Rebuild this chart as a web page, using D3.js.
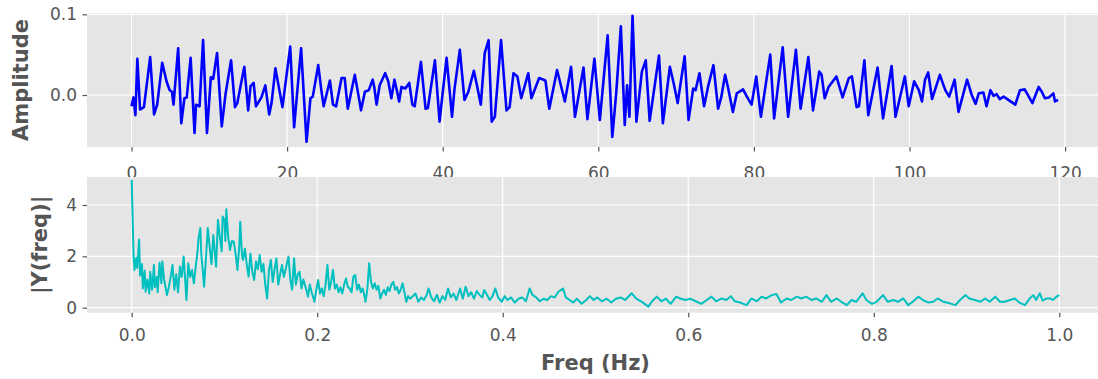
<!DOCTYPE html>
<html>
<head>
<meta charset="utf-8">
<script src="https://cdn.jsdelivr.net/npm/d3@7"></script>
<style>
  body { margin: 0; background: #fff; }
  text { font-family: "DejaVu Sans", sans-serif; }
</style>
</head>
<body>
<div id="chart"></div>
<script>
// time signal (s) and its amplitude
const timeSec = [0,0.25,0.5,0.75,1.1,1.6,2.4,2.9,3.3,3.95,4.5,4.9,5.2,5.4,6.0,6.4,6.8,7.1,7.6,8.1,8.3,8.75,9.2,9.7,10.2,10.5,11.0,11.6,12.1,12.8,13.3,13.6,14.5,15.0,15.3,15.7,16.0,16.7,17.2,17.7,18.0,18.5,19.4,20.4,20.9,21.8,22.5,23.0,23.3,24.0,24.4,24.7,25.5,25.9,26.3,27.0,27.4,27.8,28.7,29.2,29.5,30.0,30.5,31.0,31.2,31.5,31.9,32.6,33.0,33.4,33.8,34.1,34.4,34.7,35.2,35.7,36.1,36.4,37.2,37.8,38.1,39.0,39.6,39.9,40.5,41.2,41.5,42.2,42.8,43.3,44.0,44.4,44.9,45.4,45.9,46.3,46.7,47.5,48.2,48.6,49.1,49.6,50.1,51.0,51.4,52.4,53.2,53.7,54.7,55.7,56.5,57.0,58.1,58.6,59.5,60.2,61.2,61.8,62.3,62.9,63.4,63.7,64.0,64.4,64.9,65.6,66.1,66.6,67.8,68.3,69.2,69.7,70.2,71.1,71.6,72.2,72.5,73.0,73.6,74.1,74.8,75.4,75.8,76.3,76.7,77.3,77.8,78.6,79.1,79.7,80.3,80.9,82.1,82.6,83.7,84.4,85.4,86.0,87.0,87.6,88.4,88.7,89.1,89.6,90.6,91.4,92.2,92.6,93.2,93.5,94.2,94.7,95.9,96.6,97.7,98.2,99.4,99.9,100.6,101.2,101.6,102.0,102.4,102.9,103.9,104.6,105.1,105.8,106.3,107.4,108.0,108.5,108.9,109.5,109.9,110.4,110.8,111.2,111.6,112.1,113.6,114.2,114.8,115.8,116.6,117.0,117.4,117.9,118.5,118.7,119.1];
const amplitude = [-0.014,-0.003,-0.025,0.045,-0.018,-0.015,0.047,-0.024,-0.012,0.040,0.017,0.006,0.004,-0.012,0.058,-0.035,-0.004,-0.003,0.046,-0.047,-0.012,-0.014,0.068,-0.047,0.022,0.020,0.052,-0.039,0.002,0.043,-0.015,-0.010,0.035,-0.019,0.011,0.015,-0.014,-0.003,0.012,-0.024,-0.010,0.033,-0.015,0.060,-0.040,0.058,-0.058,-0.004,-0.002,0.037,0.006,-0.014,0.018,-0.012,-0.014,0.021,0.021,-0.017,0.025,-0.002,-0.019,0.004,0.006,0.019,0.010,-0.012,0.012,0.027,0.017,-0.004,0.019,0.006,-0.008,0.010,0.008,0.015,-0.012,-0.014,0.041,-0.017,-0.016,0.043,-0.033,-0.006,0.046,-0.027,0.006,0.056,-0.006,0.004,0.030,0.012,-0.012,0.052,0.068,-0.033,-0.027,0.068,-0.019,-0.015,0.027,0.023,-0.004,0.027,-0.004,0.021,0.018,-0.017,0.031,-0.008,0.035,-0.027,0.034,-0.030,0.045,-0.031,0.074,-0.052,0.002,0.085,-0.037,0.012,-0.027,0.098,-0.033,0.029,0.043,-0.032,0.049,-0.035,0.035,0.014,-0.010,0.048,-0.031,0.008,0.006,0.027,-0.014,0.010,0.037,-0.017,-0.003,0.025,0.008,-0.021,0.002,0.007,-0.002,-0.012,0.023,-0.027,0.050,-0.029,0.059,-0.027,0.056,-0.017,0.047,-0.019,0.029,0.025,-0.004,0.010,0.023,-0.003,0.021,0.023,-0.015,-0.014,0.043,-0.025,0.034,-0.029,0.036,-0.027,0.023,-0.014,0.017,0.006,-0.008,0.019,0.028,-0.005,0.025,0.006,-0.002,0.019,-0.021,0.019,0.000,-0.011,0.002,0.003,-0.014,0.006,-0.001,0.001,-0.005,-0.002,-0.012,0.006,0.007,-0.010,0.010,0.004,-0.004,-0.003,0.002,-0.008,-0.006];

// spectrum
const freqHz = [0.000,0.002,0.003,0.005,0.006,0.008,0.009,0.011,0.012,0.014,0.015,0.017,0.019,0.020,0.022,0.024,0.025,0.027,0.028,0.030,0.032,0.033,0.035,0.037,0.038,0.040,0.042,0.044,0.046,0.048,0.050,0.052,0.054,0.056,0.058,0.059,0.061,0.063,0.065,0.067,0.069,0.071,0.072,0.074,0.075,0.077,0.078,0.080,0.082,0.084,0.086,0.088,0.090,0.091,0.093,0.095,0.097,0.098,0.100,0.101,0.102,0.104,0.106,0.108,0.110,0.112,0.114,0.116,0.117,0.119,0.120,0.122,0.124,0.126,0.128,0.130,0.132,0.134,0.136,0.138,0.140,0.142,0.144,0.146,0.148,0.150,0.152,0.154,0.156,0.158,0.160,0.162,0.164,0.166,0.169,0.171,0.173,0.175,0.177,0.179,0.181,0.183,0.185,0.187,0.189,0.190,0.192,0.194,0.197,0.199,0.201,0.203,0.205,0.207,0.209,0.211,0.213,0.215,0.217,0.219,0.221,0.223,0.225,0.227,0.229,0.231,0.233,0.235,0.237,0.239,0.241,0.243,0.245,0.247,0.249,0.251,0.252,0.254,0.256,0.258,0.260,0.262,0.264,0.266,0.268,0.270,0.272,0.274,0.276,0.278,0.280,0.282,0.284,0.286,0.288,0.290,0.292,0.294,0.296,0.298,0.300,0.303,0.306,0.309,0.312,0.315,0.318,0.320,0.323,0.326,0.329,0.332,0.335,0.338,0.341,0.344,0.347,0.350,0.354,0.357,0.360,0.363,0.366,0.369,0.372,0.375,0.378,0.380,0.383,0.386,0.389,0.392,0.395,0.399,0.402,0.405,0.409,0.413,0.417,0.421,0.425,0.429,0.432,0.436,0.440,0.444,0.448,0.452,0.456,0.460,0.465,0.468,0.472,0.476,0.480,0.485,0.490,0.494,0.498,0.502,0.507,0.512,0.517,0.522,0.527,0.532,0.539,0.544,0.549,0.553,0.557,0.561,0.566,0.571,0.576,0.581,0.587,0.592,0.597,0.602,0.608,0.614,0.620,0.625,0.630,0.636,0.641,0.646,0.650,0.656,0.663,0.668,0.674,0.679,0.684,0.690,0.695,0.700,0.706,0.711,0.717,0.722,0.727,0.733,0.738,0.744,0.749,0.754,0.760,0.765,0.771,0.776,0.781,0.788,0.792,0.798,0.803,0.810,0.815,0.821,0.826,0.832,0.837,0.842,0.848,0.853,0.859,0.864,0.869,0.875,0.882,0.888,0.893,0.899,0.903,0.909,0.915,0.920,0.925,0.931,0.936,0.941,0.947,0.952,0.957,0.963,0.968,0.972,0.975,0.979,0.982,0.986,0.990,0.993,0.997,1.000];
const magnitude = [4.98,2.05,1.47,1.95,1.55,2.66,1.25,1.70,0.75,1.45,0.62,1.10,0.55,1.40,0.70,1.66,0.80,1.20,0.60,1.75,0.95,1.80,1.08,0.70,0.49,0.80,1.20,1.66,0.70,1.30,0.60,1.60,1.20,1.99,0.90,0.30,1.73,1.20,1.47,0.95,1.60,2.20,2.70,3.10,2.10,1.30,0.82,1.90,3.10,2.38,1.70,2.83,2.00,1.60,3.42,2.77,2.20,3.55,3.42,2.60,3.83,2.77,2.25,2.60,2.57,2.10,1.47,2.40,3.35,2.00,1.86,2.30,1.70,1.21,2.10,1.40,1.08,1.80,1.50,2.05,1.40,1.70,0.90,0.36,1.47,1.86,1.00,1.50,1.92,0.90,1.30,1.66,1.20,1.50,1.99,1.10,0.70,1.92,0.90,1.30,1.40,0.75,1.10,0.85,0.60,0.43,0.90,0.60,0.23,0.70,1.08,0.55,0.75,0.45,0.90,1.66,0.70,1.00,1.47,0.75,0.90,0.60,0.80,0.55,0.90,1.14,0.80,0.75,0.60,1.21,1.27,0.70,0.90,0.60,0.75,0.45,0.23,0.70,1.73,1.00,0.75,0.95,0.70,0.85,0.36,0.55,0.70,0.50,0.80,0.65,0.90,1.01,0.70,0.80,0.55,0.70,0.95,0.60,0.23,0.45,0.35,0.45,0.55,0.23,0.40,0.30,0.50,0.75,0.40,0.25,0.50,0.20,0.45,0.30,0.75,0.40,0.55,0.30,0.75,0.35,0.82,0.45,0.60,0.35,0.65,0.50,0.40,0.69,0.50,0.30,0.45,0.75,0.40,0.23,0.45,0.30,0.40,0.20,0.35,0.40,0.25,0.75,0.50,0.40,0.25,0.35,0.30,0.45,0.40,0.62,0.75,0.40,0.30,0.20,0.35,0.15,0.30,0.45,0.30,0.40,0.25,0.35,0.20,0.35,0.40,0.30,0.56,0.35,0.25,0.15,0.04,0.25,0.43,0.25,0.35,0.15,0.43,0.35,0.30,0.35,0.25,0.15,0.30,0.43,0.25,0.36,0.30,0.45,0.25,0.20,0.10,0.36,0.25,0.43,0.36,0.49,0.53,0.20,0.36,0.30,0.43,0.36,0.43,0.30,0.36,0.23,0.49,0.23,0.36,0.23,0.10,0.30,0.23,0.56,0.30,0.15,0.23,0.49,0.23,0.30,0.23,0.36,0.10,0.23,0.43,0.30,0.20,0.23,0.36,0.23,0.17,0.10,0.30,0.49,0.36,0.30,0.23,0.36,0.23,0.43,0.23,0.23,0.30,0.36,0.20,0.10,0.36,0.49,0.30,0.56,0.27,0.36,0.36,0.30,0.43,0.49];

const timeTicks = [0, 20, 40, 60, 80, 100, 120];
const ampTicks = [0, 0.1];
const freqTicks = [0, 0.2, 0.4, 0.6, 0.8, 1.0];
const magTicks = [0, 2, 4];

const W = 1098, H = 379;
const svg = d3.select("#chart").append("svg")
  .attr("width", W).attr("height", H)
  .style("display", "block");

const axLeft = 87, axRight = 1104;

function panel(cfg) {
  const g = svg.append("g");
  g.append("rect")
    .attr("x", axLeft).attr("y", cfg.top)
    .attr("width", axRight - axLeft).attr("height", cfg.bottom - cfg.top)
    .attr("fill", "#e5e5e5");

  // grid
  g.append("g").selectAll("line").data(cfg.xTicks).enter().append("line")
    .attr("x1", d => cfg.x(d)).attr("x2", d => cfg.x(d))
    .attr("y1", cfg.top).attr("y2", cfg.bottom)
    .attr("stroke", "#fff").attr("stroke-width", 1.2);
  g.append("g").selectAll("line").data(cfg.yTicks).enter().append("line")
    .attr("x1", axLeft).attr("x2", axRight)
    .attr("y1", d => cfg.y(d)).attr("y2", d => cfg.y(d))
    .attr("stroke", "#fff").attr("stroke-width", 1.2);

  const line = d3.line()
    .x(d => cfg.x(d[0]))
    .y(d => cfg.y(d[1]));
  g.append("path")
    .datum(d3.zip(cfg.xs, cfg.ys))
    .attr("d", line)
    .attr("fill", "none")
    .attr("stroke", cfg.color)
    .attr("stroke-width", cfg.lw)
    .attr("stroke-linejoin", "round");

  const xAxis = g.append("g")
    .attr("transform", `translate(0,${cfg.bottom})`)
    .call(d3.axisBottom(cfg.x).tickValues(cfg.xTicks).tickFormat(cfg.xFmt).tickSize(4.5).tickPadding(cfg.xPad));
  const yAxis = g.append("g")
    .attr("transform", `translate(${axLeft},0)`)
    .call(d3.axisLeft(cfg.y).tickValues(cfg.yTicks).tickFormat(cfg.yFmt).tickSize(4.5).tickPadding(5.5));

  [xAxis, yAxis].forEach(a => {
    a.select(".domain").remove();
    a.selectAll("line").attr("stroke", "#555").attr("stroke-width", 1.2);
    a.selectAll("text").attr("fill", "#555").style("font-size", "17px");
  });

  svg.append("text")
    .attr("transform", `translate(${cfg.labelX},${(cfg.top + cfg.bottom) / 2}) rotate(-90)`)
    .attr("text-anchor", "middle")
    .attr("fill", "#555")
    .style("font-size", "21px")
    .style("font-weight", "bold")
    .text(cfg.yLabel);
}

const xTime = d3.scaleLinear().domain([0, 120]).range([131.5, 131.5 + 120 * 7.78]);
const yAmp = d3.scaleLinear().domain([0, 0.1]).range([95, 14.3]);

panel({
  top: 13, bottom: 147,
  x: xTime, y: yAmp,
  xs: timeSec, ys: amplitude,
  xTicks: timeTicks, yTicks: ampTicks,
  xFmt: d3.format("d"), yFmt: d3.format(".1f"),
  xPad: 15,
  color: "#0000ff", lw: 2.6,
  yLabel: "Amplitude", labelX: 28
});

const xFreq = d3.scaleLinear().domain([0, 1]).range([131.7, 1059.3]);
const yMag = d3.scaleLinear().domain([0, 4]).range([307.7, 205]);

panel({
  top: 177, bottom: 312.7,
  x: xFreq, y: yMag,
  xs: freqHz, ys: magnitude,
  xTicks: freqTicks, yTicks: magTicks,
  xFmt: d3.format(".1f"), yFmt: d3.format("d"),
  xPad: 12,
  color: "#00bfbf", lw: 2,
  yLabel: "|Y(freq)|", labelX: 47
});

svg.append("text")
  .attr("x", (axLeft + axRight) / 2)
  .attr("y", 370)
  .attr("text-anchor", "middle")
  .attr("fill", "#555")
  .style("font-size", "21px")
  .style("font-weight", "bold")
  .text("Freq (Hz)");
</script>
</body>
</html>
